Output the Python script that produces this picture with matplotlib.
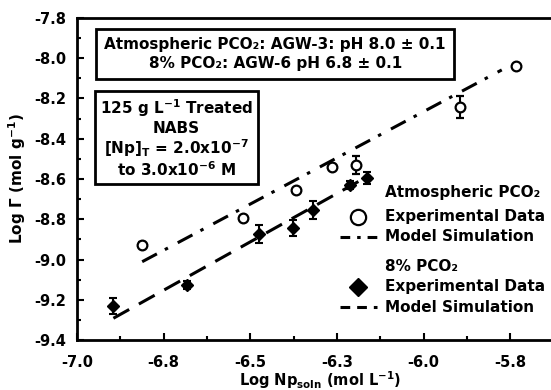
import numpy as np
import matplotlib
matplotlib.use("Agg")
import matplotlib.pyplot as plt
from matplotlib.lines import Line2D
from matplotlib.ticker import FixedLocator, MultipleLocator

plt.rcParams['font.family'] = ['DejaVu Sans']
plt.rcParams['font.weight'] = 'bold'
plt.rcParams['mathtext.fontset'] = 'dejavusans'
plt.rcParams['mathtext.default'] = 'bf'
plt.rcParams['lines.scale_dashes'] = False

# Atmospheric PCO2 experimental data (log Np_soln, log Gamma, error)
atm_x = [-6.813, -6.522, -6.369, -6.264, -6.195, -5.895, -5.734]
atm_y = [-8.928, -8.795, -8.655, -8.539, -8.530, -8.241, -8.039]
atm_err = [0.015, 0.01, 0.01, 0.01, 0.045, 0.055, 0.01]

# 8% PCO2 experimental data
co2_x = [-6.897, -6.682, -6.475, -6.376, -6.318, -6.213, -6.163]
co2_y = [-9.231, -9.127, -8.873, -8.845, -8.754, -8.630, -8.594]
co2_err = [0.04, 0.02, 0.045, 0.04, 0.045, 0.02, 0.03]

# model simulation lines
atm_model_x = [-6.812, -5.775]
atm_model_y = [-9.011, -8.058]
co2_model_x = [-6.895, -6.164]
co2_model_y = [-9.292, -8.589]

xtick_vals = [-7.0, -6.75, -6.5, -6.25, -6.0, -5.75]
xtick_labels = ["-7.0", "-6.8", "-6.5", "-6.3", "-6.0", "-5.8"]
ytick_vals = [-9.4, -9.2, -9.0, -8.8, -8.6, -8.4, -8.2, -8.0, -7.8]
ytick_labels = ["-9.4", "-9.2", "-9.0", "-8.8", "-8.6", "-8.4", "-8.2", "-8.0", "-7.8"]

DASHDOT = (0, (12, 6.5, 2.5, 8))
DASHED = (0, (13, 8))
FS = 11

fig = plt.figure(figsize=(5.51, 3.90), dpi=100)
ax = fig.add_axes([77/551, 50/390, 474/551, 322/390])

ax.plot(atm_model_x, atm_model_y, color='black', lw=2.2, linestyle=DASHDOT, zorder=2)
ax.plot(co2_model_x, co2_model_y, color='black', lw=2.2, linestyle=DASHED, zorder=2)

ax.errorbar(atm_x, atm_y, yerr=atm_err, fmt='o', mfc='white', mec='black', mew=1.6,
            ms=7, ecolor='black', elinewidth=1.5, capsize=3, capthick=1.5, zorder=3)
ax.errorbar(co2_x, co2_y, yerr=co2_err, fmt='D', mfc='black', mec='black',
            ms=6, ecolor='black', elinewidth=1.5, capsize=3, capthick=1.5, zorder=3)

ax.set_xlim(-7.0, -5.633)
ax.set_ylim(-9.4, -7.8)
ax.xaxis.set_major_locator(FixedLocator(xtick_vals))
ax.set_xticklabels(xtick_labels)
ax.xaxis.set_minor_locator(MultipleLocator(0.125))
ax.yaxis.set_major_locator(FixedLocator(ytick_vals))
ax.set_yticklabels(ytick_labels)
ax.yaxis.set_minor_locator(MultipleLocator(0.1))
ax.tick_params(which='both', direction='in', width=1.5, labelsize=10.5)
ax.tick_params(which='major', length=5)
ax.tick_params(which='minor', length=3)
ax.tick_params(axis='y', which='major', pad=8)
ax.tick_params(axis='x', which='major', pad=11)
ax.spines['right'].set_visible(False)
for s in ['left', 'bottom', 'top']:
    ax.spines[s].set_linewidth(2)

ax.set_ylabel("Log Γ (mol g$^{-1}$)", fontsize=FS, fontweight='bold')
ax.set_xlabel("Log Np$_{soln}$ (mol L$^{-1}$)", fontsize=10.5, fontweight='bold')
ax.yaxis.set_label_coords(-0.103, 0.5)
ax.xaxis.set_label_coords(0.512, -0.092)

box = dict(boxstyle='square,pad=0.55', fc='white', ec='black', lw=2)
ax.text(0.418, 0.888, "Atmospheric PCO₂: AGW-3: pH 8.0 ± 0.1\n8% PCO₂: AGW-6 pH 6.8 ± 0.1",
        transform=ax.transAxes, ha='center', va='center', fontsize=FS,
        linespacing=1.3, bbox=box, zorder=5)
ax.text(0.21, 0.626,
        "125 g L$^{-1}$ Treated\nNABS\n[Np]$_{T}$ = 2.0x10$^{-7}$\nto 3.0x10$^{-6}$ M",
        transform=ax.transAxes, ha='center', va='center', fontsize=FS,
        linespacing=1.1, bbox=dict(boxstyle='square,pad=0.3', fc='white', ec='black', lw=2),
        zorder=5)

# legend drawn by hand
tx = 0.65
ax.text(tx, 0.457, "Atmospheric PCO₂", transform=ax.transAxes, va='center', fontsize=FS)
ax.text(tx, 0.382, "Experimental Data", transform=ax.transAxes, va='center', fontsize=FS)
ax.text(tx, 0.320, "Model Simulation", transform=ax.transAxes, va='center', fontsize=FS)
ax.text(tx, 0.227, "8% PCO₂", transform=ax.transAxes, va='center', fontsize=FS)
ax.text(tx, 0.165, "Experimental Data", transform=ax.transAxes, va='center', fontsize=FS)
ax.text(tx, 0.102, "Model Simulation", transform=ax.transAxes, va='center', fontsize=FS)
ax.add_line(Line2D([0.593], [0.382], transform=ax.transAxes, marker='o', ms=11,
                   mfc='white', mec='black', mew=1.6, ls='none'))
ax.add_line(Line2D([0.593], [0.165], transform=ax.transAxes, marker='D', ms=9,
                   mfc='black', mec='black', ls='none'))
ax.add_line(Line2D([0.555, 0.632], [0.320, 0.320], transform=ax.transAxes,
                   color='black', lw=2.2, linestyle=(0, (7, 5, 2.5, 5))))
ax.add_line(Line2D([0.555, 0.632], [0.102, 0.102], transform=ax.transAxes,
                   color='black', lw=2.2, linestyle=(0, (7, 5))))

fig.savefig("out.png", dpi=100)
